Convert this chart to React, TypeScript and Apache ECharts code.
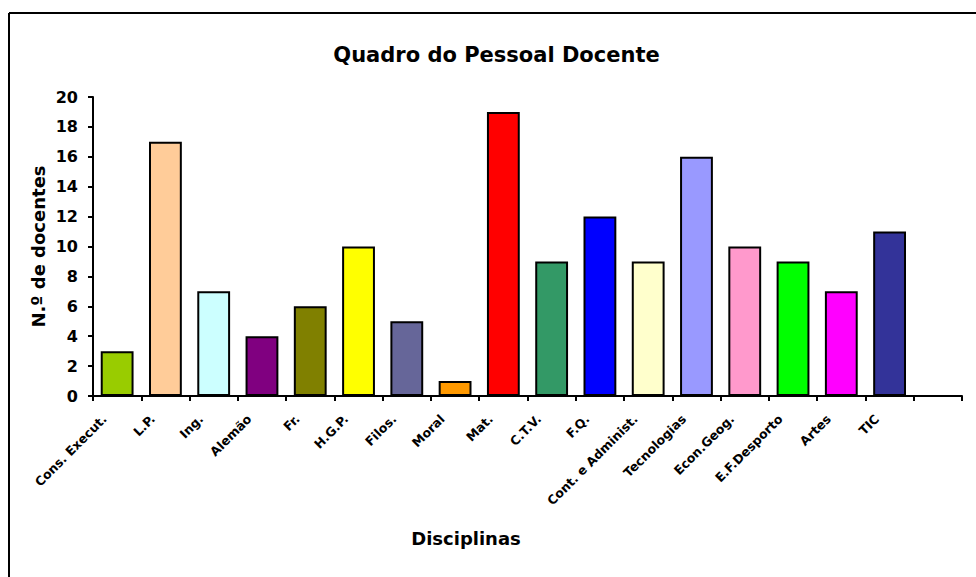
import React, { useEffect, useRef } from "react";
import * as echarts from "echarts";

const categories = [
  "Cons. Execut.", "L.P.", "Ing.", "Alemão", "Fr.", "H.G.P.", "Filos.", "Moral", "Mat.",
  "C.T.V.", "F.Q.", "Cont. e Administ.", "Tecnologias", "Econ.Geog.", "E.F.Desporto", "Artes", "TIC", "",
];
const values = [3, 17, 7, 4, 6, 10, 5, 1, 19, 9, 12, 9, 16, 10, 9, 7, 11, null];
const palette = [
  "#99CC00", "#FFCC99", "#CCFFFF", "#800080", "#808000", "#FFFF00", "#666699", "#FF9900", "#FF0000",
  "#339966", "#0000FF", "#FFFFCC", "#9999FF", "#FF99CC", "#00FF00", "#FF00FF", "#333399", "#FFFFFF",
];
const yTicks = { min: 0, max: 20, interval: 2 };

const FONT = "DejaVu Sans";

export default function App() {
  const ref = useRef<HTMLDivElement>(null);
  useEffect(() => {
    if (!ref.current) return;
    const chart = echarts.init(ref.current, null, { renderer: "svg" });
    chart.setOption({
      animation: false,
      backgroundColor: "#ffffff",
      textStyle: { fontFamily: FONT },
      grid: { left: 93, top: 97, right: 14, bottom: 181, containLabel: false },
      xAxis: {
        type: "category",
        data: categories,
        boundaryGap: true,
        axisLine: { lineStyle: { color: "#000", width: 2 } },
        axisTick: { show: true, length: 5, lineStyle: { color: "#000", width: 2 } },
        axisLabel: {
          interval: 0,
          rotate: 45,
          margin: 8,
          padding: [0, 18, 0, 0],
          color: "#000",
          fontWeight: "bold",
          fontSize: 12.5,
          fontFamily: FONT,
        },
        splitLine: { show: false },
      },
      yAxis: {
        type: "value",
        min: yTicks.min,
        max: yTicks.max,
        interval: yTicks.interval,
        axisLine: { show: true, lineStyle: { color: "#000", width: 2 } },
        axisTick: { show: true, length: 5, lineStyle: { color: "#000", width: 2 } },
        axisLabel: { margin: 15, color: "#000", fontWeight: "bold", fontSize: 16, fontFamily: FONT },
        splitLine: { show: false },
      },
      series: [
        {
          type: "bar",
          barWidth: "68%",
          data: values.map((v, i) => ({
            value: v,
            itemStyle: { color: palette[i], borderColor: "#000", borderWidth: 2 },
          })),
        },
      ],
      graphic: [
        { type: "line", shape: { x1: 9, y1: 13, x2: 976, y2: 13 }, style: { stroke: "#000", lineWidth: 2 } },
        { type: "line", shape: { x1: 9, y1: 13, x2: 9, y2: 577 }, style: { stroke: "#000", lineWidth: 2 } },
        {
          type: "text",
          x: 496.5,
          y: 55,
          style: {
            text: "Quadro do Pessoal Docente",
            fill: "#000",
            font: `bold 21px "${FONT}"`,
            textAlign: "center",
            textVerticalAlign: "middle",
          },
        },
        {
          type: "text",
          x: 466,
          y: 538,
          style: {
            text: "Disciplinas",
            fill: "#000",
            font: `bold 18px "${FONT}"`,
            textAlign: "center",
            textVerticalAlign: "middle",
          },
        },
        {
          type: "text",
          x: 38.5,
          y: 246.5,
          rotation: Math.PI / 2,
          style: {
            text: "N.º de docentes",
            fill: "#000",
            font: `bold 18px "${FONT}"`,
            textAlign: "center",
            textVerticalAlign: "middle",
          },
        },
      ],
    });
    return () => chart.dispose();
  }, []);
  return (
    <div
      ref={ref}
      style={{ position: "absolute", left: 0, top: 0, width: 976, height: 577, background: "#fff" }}
    />
  );
}
